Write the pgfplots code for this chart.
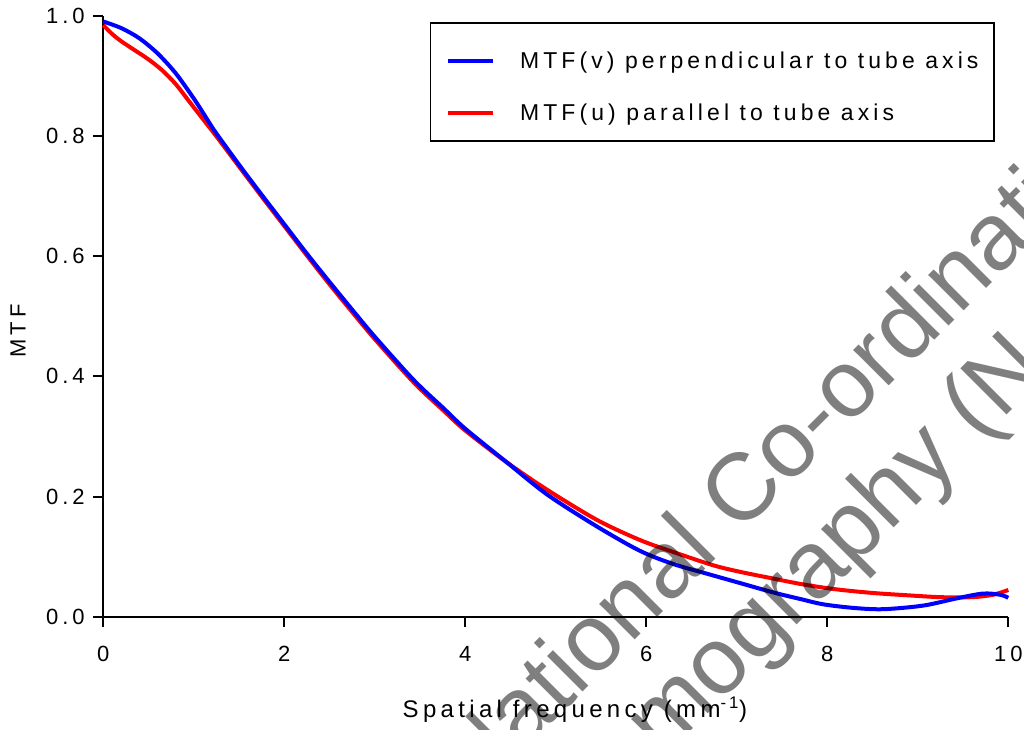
\documentclass[border=0pt]{standalone}
\usepackage{fontspec}
\setmainfont{Liberation Sans}[LetterSpace=18]
\newfontfamily\wmfont{Liberation Sans}
\usepackage{pgfplots}
\pgfplotsset{compat=1.18}

\begin{document}
\begin{tikzpicture}
\begin{axis}[
  width=678.75pt, height=451.125pt, scale only axis,
  xmin=0, xmax=10, ymin=0, ymax=1,
  axis x line*=bottom, axis y line*=left,
  axis line style={line width=1.5pt, black},
  xtick={0,2,4,6,8,10}, ytick={0,0.2,0.4,0.6,0.8,1},
  tick align=outside, major tick length=7.5pt,
  tick style={line width=1.5pt, black},
  font=\fontsize{16.5}{19.8}\selectfont,
  /pgf/number format/assume math mode=true,
  xticklabel style={yshift=-11pt},
  yticklabel style={xshift=-3pt, /pgf/number format/.cd, fixed, fixed zerofill, precision=1},
  xlabel={Spatial frequency (mm\textsuperscript{-1})},
  ylabel={MTF},
  xlabel style={at={(axis description cs:0.5212,-0.1663)}, anchor=base,
    font=\fontsize{18}{21.6}\selectfont},
  ylabel style={at={(axis description cs:-0.0943,0.4755)}, anchor=center},
  legend style={at={(axis description cs:0.361,0.989)}, anchor=north west,
    draw=black, line width=1.1pt, fill=white,
    inner xsep=11.5pt, inner ysep=11.5pt, row sep=12.5pt, column sep=18.75pt,
    nodes={inner sep=0pt, text height=23pt, text depth=3.5pt, anchor=base west},
    font=\fontsize{17.2}{20.6}\selectfont},
  legend cell align=left,
  legend image code/.code={\draw[#1] (0pt,6pt) -- (33.75pt,6pt);},
  reverse legend,
  clip=false,
]
% parallel to tube axis
\addplot[red, line width=3pt, smooth] coordinates {
  (0,0.984) (0.1,0.969) (0.2,0.957) (0.33,0.944) (0.5,0.927) (0.65,0.909)
  (0.8,0.886) (0.95,0.857) (1.1,0.828) (1.24,0.801) (1.5,0.749) (1.73,0.703)
  (2.0,0.650) (2.25,0.601) (2.5,0.553) (2.75,0.507) (3.0,0.462) (3.43,0.390)
  (3.76,0.343) (4.0,0.310) (4.46,0.257) (4.91,0.211) (5.46,0.161) (5.93,0.128)
  (6.3,0.108) (6.74,0.086) (7.04,0.075) (7.4,0.064) (7.74,0.054) (8.1,0.046)
  (8.5,0.040) (8.9,0.036) (9.25,0.033) (9.6,0.033) (9.83,0.037) (10,0.045)
};
\addlegendentry{MTF(u) parallel to tube axis}
% perpendicular to tube axis
\addplot[blue, line width=3pt, smooth] coordinates {
  (0,0.990) (0.2,0.979) (0.4,0.962) (0.6,0.937) (0.8,0.904) (1.0,0.862)
  (1.12,0.834) (1.24,0.806) (1.5,0.752) (1.73,0.706) (2.0,0.653) (2.25,0.604)
  (2.5,0.557) (2.75,0.511) (3.0,0.466) (3.43,0.394) (3.76,0.347) (4.0,0.313)
  (4.46,0.257) (4.91,0.203) (5.46,0.150) (5.93,0.110) (6.3,0.088) (6.67,0.072)
  (7.0,0.058) (7.4,0.041) (7.7,0.030) (7.96,0.021) (8.3,0.015) (8.62,0.013)
  (9.06,0.019) (9.43,0.031) (9.72,0.039) (9.91,0.037) (10,0.032)
};
\addlegendentry{MTF(v) perpendicular to tube axis}
\coordinate (bl) at (axis cs:-1.1414,-0.1862);
\coordinate (tr) at (axis cs:10.1735,1.0258);
\coordinate (wm1) at (axis cs:4.096,-0.306);
\coordinate (wm2) at (axis cs:5.389,-0.356);
\end{axis}
\begin{scope}
  \clip (bl) rectangle (tr);
  \node[rotate=45, anchor=base west, inner sep=0pt, text=black, text opacity=0.5,
    font=\wmfont\fontsize{71.25}{80}\selectfont] at (wm1) {National Co-ordinating};
  \node[rotate=45, anchor=base west, inner sep=0pt, text=black, text opacity=0.5,
    font=\wmfont\fontsize{71.25}{80}\selectfont] at (wm2) {Tomography (N};
\end{scope}
\pgfresetboundingbox
\path[use as bounding box] (bl) rectangle (tr);
\end{tikzpicture}
\end{document}
